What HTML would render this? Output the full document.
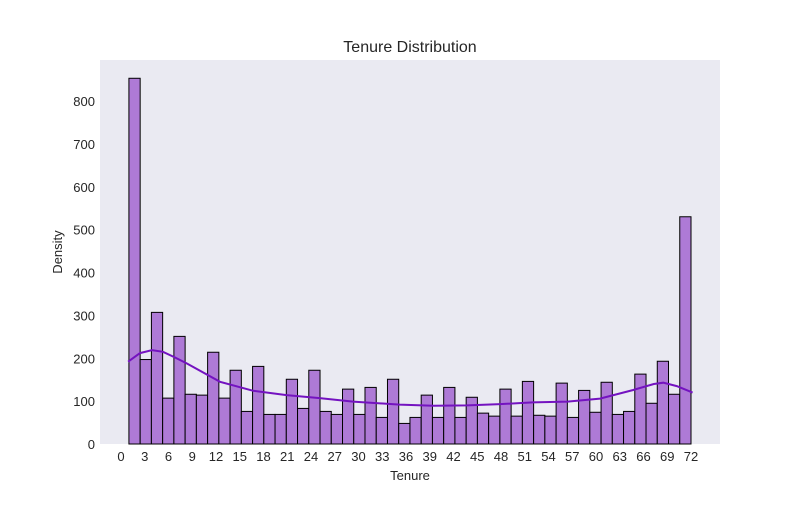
<!DOCTYPE html>
<html><head><meta charset="utf-8"><style>
body{margin:0;background:#fff;}
svg text{font-family:"Liberation Sans","DejaVu Sans",sans-serif;fill:#262626;}
</style></head><body>
<svg id="chart" width="800" height="500" xmlns="http://www.w3.org/2000/svg">
<rect x="0" y="0" width="800" height="500" fill="#ffffff"/>
<rect x="100" y="60" width="620" height="384" fill="#eaeaf2"/>
<g id="bars"></g>
<path id="kde" fill="none" stroke="#7413c0" stroke-width="2"/>
<g id="xticks"></g>
<g id="yticks"></g>
<text x="410" y="52" font-size="16" text-anchor="middle">Tenure Distribution</text>
<text x="410" y="480" font-size="13" text-anchor="middle">Tenure</text>
<text x="62" y="252" font-size="13" text-anchor="middle" transform="rotate(-90 62 252)">Density</text>
</svg>
<script>
const counts = [853,197,307,107,251,116,114,214,107,172,76,181,69,69,151,83,172,76,69,128,69,132,62,151,48,62,114,62,132,62,109,72,65,128,65,146,67,65,142,62,125,74,144,69,76,163,95,193,116,530];
const kdeX = [0.9,2.4,3.9,5.3,6.8,8.3,12.5,16.7,20.9,25.1,29.3,35.2,39.5,43.7,47.9,52,56.4,60.5,64.7,67.3,68.5,70.2,72.2];
const kdeY = [192,212,219,215,202,188,145,124,114,107,99,92,89,90,93,97,99,106,126,140,143,135,120];
const xTicks = [0,3,6,9,12,15,18,21,24,27,30,33,36,39,42,45,48,51,54,57,60,63,66,69,72];
const yTicks = [0,100,200,300,400,500,600,700,800];
const binStart = 1, binEnd = 72;

const NS = "http://www.w3.org/2000/svg";
const xs = v => 121 + (v - 0) * (570 / 72);
const ys = v => 444 - v * 0.42875;
const bw = (binEnd - binStart) / counts.length;

const gb = document.getElementById('bars');
counts.forEach((c, i) => {
  const r = document.createElementNS(NS, 'rect');
  const x0 = xs(binStart + i * bw), x1 = xs(binStart + (i + 1) * bw);
  r.setAttribute('x', x0); r.setAttribute('width', x1 - x0);
  r.setAttribute('y', ys(c)); r.setAttribute('height', ys(0) - ys(c));
  r.setAttribute('fill', '#ae7ad6'); r.setAttribute('stroke', '#000'); r.setAttribute('stroke-width', '1');
  
  
  gb.appendChild(r);
});

let d = '';
kdeX.forEach((x, i) => { d += (i ? 'L' : 'M') + xs(x).toFixed(1) + ' ' + ys(kdeY[i]).toFixed(1) + ' '; });
document.getElementById('kde').setAttribute('d', d);

const gx = document.getElementById('xticks');
xTicks.forEach(t => {
  const tx = document.createElementNS(NS, 'text');
  tx.setAttribute('x', xs(t)); tx.setAttribute('y', 461);
  tx.setAttribute('font-size', '13'); tx.setAttribute('text-anchor', 'middle');
  tx.textContent = t;
  
  
  gx.appendChild(tx);
});
const gy = document.getElementById('yticks');
yTicks.forEach(t => {
  const tx = document.createElementNS(NS, 'text');
  tx.setAttribute('x', 95); tx.setAttribute('y', ys(t) + 5);
  tx.setAttribute('font-size', '13'); tx.setAttribute('text-anchor', 'end');
  tx.textContent = t;
  
  
  gy.appendChild(tx);
});
</script>
</body></html>
